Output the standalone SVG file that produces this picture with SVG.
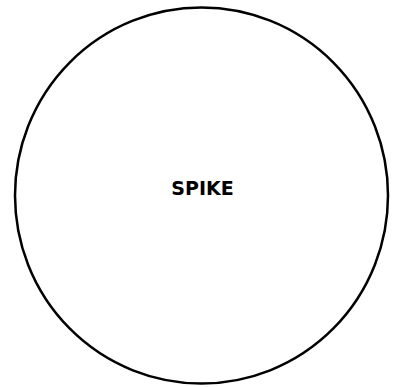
<svg xmlns="http://www.w3.org/2000/svg" width="399" height="387" viewBox="0 0 399 387">
<style>
.node{fill:#ffffff;stroke:#000000;stroke-width:2.5}
.lbl{font-family:"DejaVu Sans",sans-serif;font-weight:bold;font-size:19px;fill:#000000;text-anchor:middle}
</style>
<rect width="399" height="387" fill="#ffffff"/>
<g id="connectors"></g>
<g id="spike">
<ellipse class="node" cx="201.5" cy="195.5" rx="186.5" ry="188"/>
<text class="lbl" x="202.5" y="195">SPIKE</text>
</g>
</svg>
